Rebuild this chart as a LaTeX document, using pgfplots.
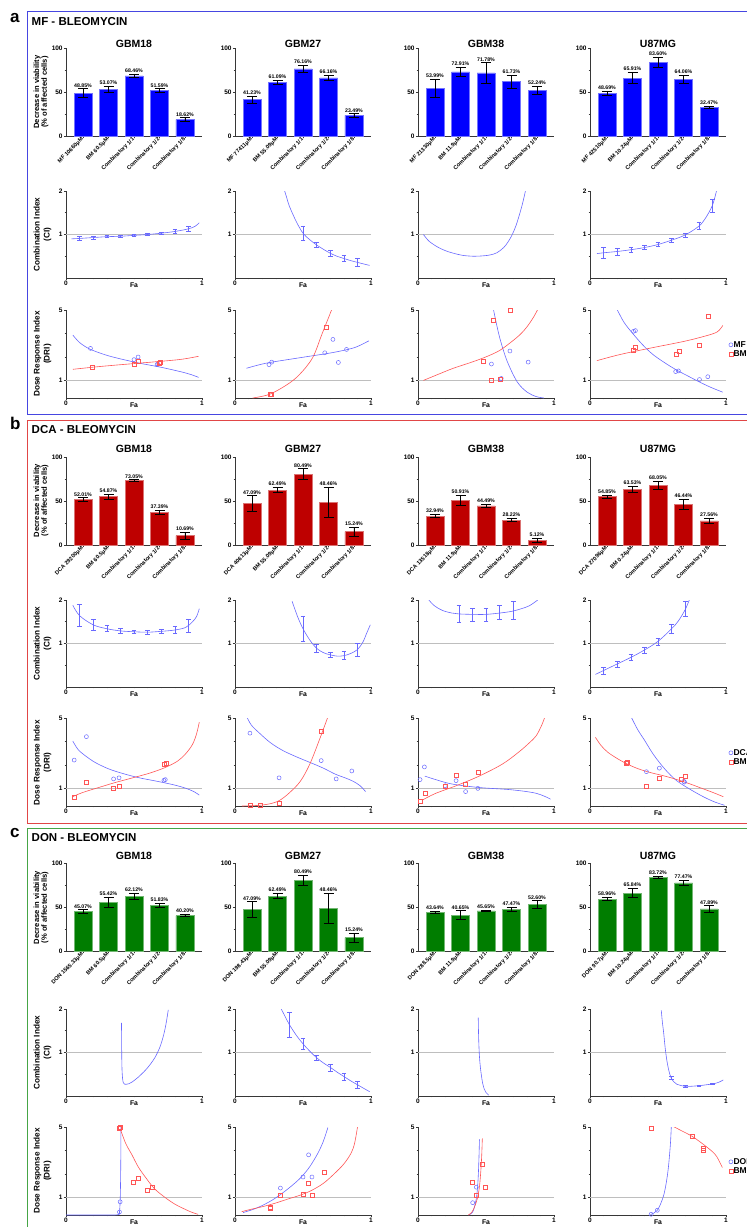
\documentclass[border=0pt]{standalone}
\usepackage{fontspec}
\setmainfont{Liberation Sans}
\usepackage{pgfplots}
\usepackage{pgfplotstable}
\pgfplotsset{compat=1.18}

\definecolor{bbar}{RGB}{0,0,255}
\definecolor{rbar}{RGB}{190,0,0}
\definecolor{gbar}{RGB}{0,125,0}
\definecolor{cblue}{RGB}{105,105,255}
\definecolor{cred}{RGB}{255,85,85}
\definecolor{fblue}{RGB}{70,70,225}
\definecolor{fred}{RGB}{225,70,70}
\definecolor{fgreen}{RGB}{70,165,70}
\definecolor{axgray}{RGB}{55,55,55}
\definecolor{refgray}{RGB}{190,190,190}

\newcommand{\fs}[1]{\fontsize{#1}{#1}\selectfont\bfseries}
\def\tshift{0pt}

\pgfplotsset{
  legend image code/.code={\draw[mark repeat=2,mark phase=2,#1] plot coordinates {(0cm,0cm) (0.1cm,0cm) (0.2cm,0cm)};},
  base/.style={scale only axis, width=136pt, axis lines=left,
    axis line style={-, axgray, line width=1pt},
    tick align=outside, major tick length=2.2pt, minor tick length=1.4pt,
    tick style={axgray, line width=0.6pt},
    /pgf/number format/assume math mode=true,
    tick label style={font=\fs{6.5}, inner sep=1pt},
    xlabel style={font=\fs{6.8}, at={(axis description cs:0.5,0)}, anchor=north, yshift=-4.5pt, inner sep=0pt}},
  barax/.style={base, height=88pt, ymin=0, ymax=100, ytick={0,50,100}, minor ytick={25,75},
    xmin=-0.667, xmax=4.667, xtick={0,...,4},
    x tick label style={rotate=45, anchor=east, font=\fs{5.6}, inner sep=0.5pt},
    title style={font=\fs{10.5}, at={(0.5,1)}, anchor=south, inner sep=0pt, yshift=\tshift}},
  ciax/.style={base, height=87pt, xmin=0, xmax=1, ymin=0, ymax=2, xtick={0,1}, ytick={1,2},
    minor x tick num=9, minor ytick={0.5,1.5}, xlabel={Fa}},
  driax/.style={base, height=88pt, xmin=0, xmax=1, ymin=0, ymax=5, xtick={0,1}, ytick={1,5},
    minor x tick num=9, minor ytick={2.333,3.667}, xlabel={Fa}},
  curve/.style={line width=0.6pt, smooth, tension=0.55, forget plot},
  leg/.style={legend entries={#1,BM}, legend style={at={(1.02,0.55)}, anchor=west,
    draw=none, fill=none, font=\fs{8.5}, inner sep=0pt, row sep=1pt,
    nodes={inner sep=0.6pt}}, legend cell align=left},
}

% bar chart: #1 x, #2 y top, #3 colour, #4 title, #5 tick labels, #6 table (v e)
\newcommand{\bars}[6]{%
\begin{axis}[barax, at={(#1pt,-#2pt)}, anchor=north west, title={#4}, xticklabels={#5}]
\addplot[ybar, bar width=18pt, fill=#3, draw=#3!55!white, line width=0.5pt,
  error bars/.cd, y dir=both, y explicit, error bar style={black, line width=0.8pt},
  error mark options={black, rotate=90, mark size=5pt, line width=0.8pt}]
  table[x expr=\coordindex, y=v, y error=e, row sep=\\] {#6};
\addplot[draw=none, mark=none, point meta=\thisrow{v},
  nodes near coords={\pgfmathprintnumber[fixed, fixed zerofill, precision=2]{\pgfplotspointmeta}\%},
  nodes near coords style={font=\fs{5.2}, anchor=south, inner sep=1.3pt}]
  table[x expr=\coordindex, y expr=\thisrow{v}+\thisrow{e}, row sep=\\] {#6};
\end{axis}}

% error bars for the CI plots
\newcommand{\eb}[1]{\addplot[draw=none, mark=none,
  error bars/.cd, y dir=both, y explicit, error bar style={draw=cblue, line width=0.6pt},
  error mark options={draw=cblue, rotate=90, mark size=2.3pt, line width=0.6pt}] coordinates {#1};}

% CI plot: #1 x, #2 y top, #3 curve, #4 extra code
\newcommand{\ci}[4]{%
\begin{axis}[ciax, at={(#1pt,-#2pt)}, anchor=north west]
\addplot[refgray, line width=0.6pt] coordinates {(0,1) (1,1)};
\addplot[cblue, curve] coordinates {#3};
#4
\end{axis}}

% DRI plot: #1 x, #2 y top, #3 blue curve, #4 blue points, #5 red curve, #6 red points, #7 options
\newcommand{\dri}[7]{%
\begin{axis}[driax, at={(#1pt,-#2pt)}, anchor=north west, #7]
\addplot[refgray, line width=0.6pt, forget plot] coordinates {(0,1) (1,1)};
\addplot[cblue, curve] coordinates {#3};
\addplot[cred, curve] coordinates {#5};
\addplot[cblue, only marks, mark=o, mark size=2pt, line width=0.5pt] coordinates {#4};
\addplot[cred, only marks, mark=square, mark size=2pt, line width=0.5pt] coordinates {#6};
\end{axis}}

\begin{document}
\begin{tikzpicture}
\useasboundingbox (0,0) rectangle (747pt,-1227pt);

% frames
\draw[fblue, line width=1pt] (27pt,-11pt) rectangle (790pt,-414pt);
\draw[fred, line width=1pt] (27pt,-420pt) rectangle (790pt,-823pt);
\draw[fgreen, line width=1pt] (27pt,-828pt) rectangle (790pt,-1260pt);

% panel letters and titles
\node[anchor=base west, inner sep=0pt, font=\fs{17}] at (10pt,-22pt) {a};
\node[anchor=base west, inner sep=0pt, font=\fs{11.5}] at (31.5pt,-25pt) {MF - BLEOMYCIN};
\node[anchor=base west, inner sep=0pt, font=\fs{17}] at (10pt,-429pt) {b};
\node[anchor=base west, inner sep=0pt, font=\fs{11.5}] at (31.5pt,-433pt) {DCA - BLEOMYCIN};
\node[anchor=base west, inner sep=0pt, font=\fs{17}] at (10pt,-837pt) {c};
\node[anchor=base west, inner sep=0pt, font=\fs{11.5}] at (31.5pt,-841pt) {DON - BLEOMYCIN};

% row labels
\foreach \yb/\yc/\yd in {92/234.5/354, 500.5/643.5/762.5, 907.5/1052.5/1171}{
  \node[rotate=90, align=center, font=\fontsize{7.6}{7.6}\selectfont\bfseries] at (41pt,-\yb pt) {Decrease in viability\\(\% of affected cells)};
  \node[rotate=90, align=center, font=\fontsize{8.2}{10}\selectfont\bfseries] at (42.5pt,-\yc pt) {Combination Index\\(CI)};
  \node[rotate=90, align=center, font=\fontsize{8.2}{10}\selectfont\bfseries] at (42.5pt,-\yd pt) {Dose Response Index\\(DRI)};
}

%%%%%%%%%%%%%%%% a : MF - BLEOMYCIN
\def\tshift{-6pt}
\bars{66}{48}{bbar}{GBM18}{MF 10660μM, BM 60.5μM, Combinatory 1/1, Combinatory 1/2, Combinatory 1/8}
  {v e\\ 48.85 4.8\\ 53.07 3.5\\ 68.46 2.0\\ 51.59 2.3\\ 18.62 2.0\\}
\bars{235}{48}{bbar}{GBM27}{MF 77411μM, BM 55.09μM, Combinatory 1/1, Combinatory 1/2, Combinatory 1/8}
  {v e\\ 41.23 4.0\\ 61.09 2.0\\ 76.16 4.0\\ 66.16 3.0\\ 23.49 1.8\\}
\bars{418}{48}{bbar}{GBM38}{MF 21330μM, BM 11.9μM, Combinatory 1/1, Combinatory 1/2, Combinatory 1/8}
  {v e\\ 53.99 10.5\\ 72.91 5.0\\ 71.78 11.5\\ 61.73 7.5\\ 52.24 4.5\\}
\bars{590}{48}{bbar}{U87MG}{MF 42510μM, BM 10.24μM, Combinatory 1/1, Combinatory 1/2, Combinatory 1/8}
  {v e\\ 48.69 2.5\\ 65.91 6.5\\ 83.60 6.0\\ 64.06 4.7\\ 32.47 1.5\\}

\ci{66}{191}{(0.04,0.90) (0.1,0.91) (0.2,0.93) (0.3,0.95) (0.4,0.96) (0.5,0.98) (0.6,1.0) (0.7,1.03) (0.8,1.07) (0.9,1.13) (0.95,1.19) (0.98,1.27)}
  {\eb{(0.1,0.91) +- (0,0.05) (0.2,0.93) +- (0,0.04) (0.3,0.95) +- (0,0.025) (0.4,0.96) +- (0,0.02) (0.5,0.98) +- (0,0.02) (0.6,1.0) +- (0,0.02) (0.7,1.03) +- (0,0.03) (0.8,1.07) +- (0,0.04) (0.9,1.13) +- (0,0.06)}}
\ci{235}{191}{(0.365,2.0) (0.38,1.85) (0.40,1.65) (0.45,1.30) (0.5,1.03) (0.55,0.88) (0.6,0.76) (0.65,0.66) (0.7,0.57) (0.75,0.50) (0.8,0.45) (0.85,0.40) (0.9,0.36) (0.95,0.32) (0.99,0.29)}
  {\eb{(0.5,1.03) +- (0,0.17) (0.6,0.76) +- (0,0.06) (0.7,0.57) +- (0,0.06) (0.8,0.45) +- (0,0.07) (0.9,0.36) +- (0,0.09)}}
\ci{418}{191}{(0.04,1.0) (0.08,0.85) (0.14,0.72) (0.2,0.63) (0.26,0.57) (0.33,0.52) (0.41,0.50) (0.48,0.51) (0.53,0.53) (0.58,0.58) (0.63,0.70) (0.66,0.82) (0.69,0.98) (0.72,1.2) (0.75,1.5) (0.77,1.73) (0.79,2.0)}
  {}
\ci{590}{191}{(0.05,0.56) (0.1,0.58) (0.2,0.61) (0.3,0.65) (0.4,0.70) (0.5,0.77) (0.6,0.87) (0.7,0.99) (0.8,1.19) (0.85,1.38) (0.9,1.67) (0.93,2.0)}
  {\eb{(0.1,0.58) +- (0,0.12) (0.2,0.61) +- (0,0.08) (0.3,0.65) +- (0,0.06) (0.4,0.70) +- (0,0.05) (0.5,0.77) +- (0,0.04) (0.6,0.87) +- (0,0.04) (0.7,0.98) +- (0,0.04) (0.8,1.19) +- (0,0.08) (0.9,1.65) +- (0,0.15)}}

\dri{66}{310}{(0.05,3.58) (0.1,3.15) (0.17,2.8) (0.27,2.5) (0.37,2.28) (0.54,1.98) (0.69,1.76) (0.84,1.50) (0.92,1.33) (0.975,1.17)}
  {(0.18,2.82) (0.50,2.18) (0.53,2.33) (0.67,1.89) (0.675,1.93)}
  {(0.05,1.63) (0.25,1.79) (0.49,1.95) (0.69,2.08) (0.85,2.2) (0.975,2.37)}
  {(0.19,1.75) (0.50,1.89) (0.53,2.08) (0.69,2.04) (0.685,1.98)}{}
\dri{235}{310}{(0.085,1.69) (0.23,1.98) (0.47,2.28) (0.71,2.57) (0.85,2.8) (0.91,2.96) (0.985,3.25)}
  {(0.25,1.89) (0.27,2.04) (0.66,2.57) (0.72,3.33) (0.76,2.02) (0.82,2.76)}
  {(0.13,0) (0.25,0.2) (0.375,0.72) (0.47,1.30) (0.57,2.28) (0.64,3.64) (0.71,5.0)}
  {(0.26,0.19) (0.267,0.23) (0.67,4.03)}{}
\dri{418}{310}{(0.553,5.1) (0.58,4.1) (0.607,3.25) (0.656,2.08) (0.73,0.91) (0.803,0.33) (0.87,0.08) (0.926,0)}
  {(0.54,1.93) (0.607,1.07) (0.612,1.11) (0.676,2.67) (0.81,2.04)}
  {(0.04,1.0) (0.15,1.35) (0.26,1.69) (0.4,2.05) (0.51,2.37) (0.6,2.7) (0.68,3.15) (0.75,3.6) (0.80,4.03) (0.85,4.6) (0.885,5.1)}
  {(0.48,2.08) (0.55,4.40) (0.68,4.96) (0.54,0.99) (0.607,1.05)}{}
\dri{590}{310}{(0.195,5.1) (0.25,4.3) (0.317,3.64) (0.39,3.0) (0.463,2.47) (0.55,2.0) (0.634,1.60) (0.72,1.25) (0.805,0.91) (0.89,0.6) (0.976,0.33)}
  {(0.32,3.79) (0.334,3.83) (0.63,1.50) (0.65,1.54) (0.805,1.05) (0.866,1.21)}
  {(0.05,2.12) (0.22,2.47) (0.46,2.86) (0.71,3.25) (0.90,3.64) (0.95,3.85) (0.976,4.12)}
  {(0.32,2.72) (0.334,2.90) (0.634,2.51) (0.654,2.67) (0.805,3.02) (0.866,4.65)}{leg=MF}

%%%%%%%%%%%%%%%% b : DCA - BLEOMYCIN
\def\tshift{-1.5pt}
\bars{66}{457}{rbar}{GBM18}{DCA 29200μM, BM 60.5μM, Combinatory 1/1, Combinatory 1/2, Combinatory 1/8}
  {v e\\ 52.01 1.9\\ 54.87 2.5\\ 73.05 1.2\\ 37.39 2.5\\ 10.69 4.0\\}
\bars{235}{457}{rbar}{GBM27}{DCA 40613μM, BM 55.09μM, Combinatory 1/1, Combinatory 1/2, Combinatory 1/8}
  {v e\\ 47.09 9.0\\ 62.49 3.0\\ 80.49 6.0\\ 48.46 17.0\\ 15.24 5.0\\}
\bars{418}{457}{rbar}{GBM38}{DCA 13518μM, BM 11.9μM, Combinatory 1/1, Combinatory 1/2, Combinatory 1/8}
  {v e\\ 32.94 1.9\\ 50.91 5.5\\ 44.49 2.0\\ 28.22 1.9\\ 5.12 2.6\\}
\bars{590}{457}{rbar}{U87MG}{DCA 27096μM, BM 0.24μM, Combinatory 1/1, Combinatory 1/2, Combinatory 1/8}
  {v e\\ 54.85 1.9\\ 63.53 3.5\\ 68.05 4.8\\ 46.44 5.7\\ 27.56 3.0\\}

\ci{66}{600}{(0.05,1.88) (0.1,1.64) (0.2,1.43) (0.3,1.34) (0.4,1.29) (0.5,1.27) (0.6,1.26) (0.7,1.28) (0.8,1.31) (0.88,1.37) (0.93,1.5) (0.96,1.62) (0.98,1.80)}
  {\eb{(0.1,1.64) +- (0,0.25) (0.2,1.43) +- (0,0.12) (0.3,1.34) +- (0,0.07) (0.4,1.30) +- (0,0.06) (0.5,1.27) +- (0,0.04) (0.6,1.26) +- (0,0.04) (0.7,1.28) +- (0,0.05) (0.8,1.31) +- (0,0.08) (0.9,1.41) +- (0,0.15)}}
\ci{235}{600}{(0.42,1.97) (0.46,1.62) (0.5,1.34) (0.55,1.08) (0.6,0.89) (0.65,0.79) (0.7,0.74) (0.75,0.71) (0.8,0.72) (0.85,0.77) (0.9,0.86) (0.94,1.03) (0.97,1.25) (0.995,1.43)}
  {\eb{(0.5,1.34) +- (0,0.28) (0.6,0.89) +- (0,0.1) (0.7,0.74) +- (0,0.06) (0.8,0.73) +- (0,0.09) (0.9,0.86) +- (0,0.15)}}
\ci{418}{600}{(0.08,2.0) (0.12,1.87) (0.18,1.76) (0.25,1.70) (0.3,1.68) (0.4,1.67) (0.5,1.67) (0.6,1.70) (0.69,1.74) (0.76,1.8) (0.82,1.87) (0.88,2.0)}
  {\eb{(0.3,1.68) +- (0,0.19) (0.4,1.67) +- (0,0.15) (0.5,1.67) +- (0,0.15) (0.6,1.71) +- (0,0.16) (0.7,1.76) +- (0,0.2)}}
\ci{590}{600}{(0.04,0.29) (0.1,0.38) (0.2,0.53) (0.3,0.68) (0.4,0.85) (0.5,1.05) (0.6,1.34) (0.65,1.52) (0.7,1.78) (0.73,2.0)}
  {\eb{(0.1,0.38) +- (0,0.08) (0.2,0.53) +- (0,0.07) (0.3,0.68) +- (0,0.07) (0.4,0.85) +- (0,0.07) (0.5,1.05) +- (0,0.08) (0.6,1.34) +- (0,0.1) (0.7,1.80) +- (0,0.17)}}

\dri{66}{718}{(0.05,3.69) (0.09,3.2) (0.15,2.81) (0.22,2.45) (0.32,2.09) (0.43,1.82) (0.54,1.60) (0.64,1.45) (0.73,1.31) (0.81,1.17) (0.88,1.01) (0.94,0.82) (0.98,0.62)}
  {(0.06,2.61) (0.15,3.94) (0.35,1.54) (0.39,1.60) (0.72,1.46) (0.73,1.50)}
  {(0.05,0.53) (0.12,0.76) (0.24,1.05) (0.36,1.33) (0.49,1.60) (0.62,1.88) (0.73,2.19) (0.82,2.55) (0.88,2.97) (0.93,3.5) (0.96,4.1) (0.98,4.76)}
  {(0.06,0.49) (0.15,1.37) (0.35,1.01) (0.39,1.11) (0.72,2.38) (0.74,2.42)}{}
\dri{235}{718}{(0.085,5.1) (0.12,4.6) (0.18,4.14) (0.26,3.6) (0.35,3.16) (0.45,2.8) (0.55,2.48) (0.65,2.15) (0.74,1.80) (0.81,1.6) (0.87,1.40) (0.92,1.15) (0.96,0.82)}
  {(0.11,4.14) (0.188,5.05) (0.324,1.60) (0.634,2.58) (0.744,1.54) (0.859,1.99)}
  {(0.05,0) (0.18,0.04) (0.27,0.15) (0.33,0.33) (0.40,0.75) (0.48,1.40) (0.55,2.38) (0.62,3.75) (0.68,5.0)}
  {(0.11,0.02) (0.188,0.05) (0.324,0.14) (0.634,4.23)}{}
\dri{418}{718}{(0.05,1.70) (0.13,1.50) (0.25,1.25) (0.45,1.05) (0.69,0.92) (0.87,0.72) (0.975,0.39)}
  {(0.015,1.50) (0.047,2.22) (0.20,1.15) (0.28,1.44) (0.35,0.82) (0.44,1.0)}
  {(0.03,0.33) (0.13,0.72) (0.28,1.15) (0.45,1.70) (0.62,2.38) (0.74,3.06) (0.82,3.6) (0.87,4.0) (0.91,4.6) (0.93,5.0)}
  {(0.02,0.29) (0.05,0.72) (0.20,1.11) (0.28,1.74) (0.35,1.21) (0.44,1.89)}{}
\dri{590}{718}{(0.30,5.1) (0.35,4.35) (0.40,3.75) (0.46,3.0) (0.52,2.38) (0.58,1.85) (0.644,1.40) (0.742,0.92) (0.84,0.50) (0.92,0.22) (0.99,0.04)}
  {(0.415,1.95) (0.51,2.15) (0.69,1.40) (0.695,1.36)}
  {(0.04,3.90) (0.08,3.45) (0.13,3.06) (0.2,2.7) (0.275,2.38) (0.36,2.1) (0.45,1.89) (0.55,1.7) (0.64,1.50) (0.73,1.27) (0.82,1.01) (0.9,0.78) (0.98,0.53)}
  {(0.27,2.42) (0.275,2.48) (0.415,1.11) (0.51,1.56) (0.67,1.50) (0.70,1.70)}{leg=DCA}

%%%%%%%%%%%%%%%% c : DON - BLEOMYCIN
\def\tshift{-2.5pt}
\bars{66}{863}{gbar}{GBM18}{DON 1565.33μM, BM 60.5μM, Combinatory 1/1, Combinatory 1/2, Combinatory 1/8}
  {v e\\ 45.07 1.9\\ 55.42 6.0\\ 62.12 3.2\\ 51.83 2.8\\ 40.20 1.3\\}
\bars{235}{863}{gbar}{GBM27}{DON 198.43μM, BM 55.09μM, Combinatory 1/1, Combinatory 1/2, Combinatory 1/8}
  {v e\\ 47.09 9.0\\ 62.49 3.0\\ 80.49 6.0\\ 48.46 17.0\\ 15.24 5.0\\}
\bars{418}{863}{gbar}{GBM38}{DON 288.5μM, BM 11.9μM, Combinatory 1/1, Combinatory 1/2, Combinatory 1/8}
  {v e\\ 43.64 1.2\\ 40.65 5.1\\ 45.65 0.5\\ 47.47 2.6\\ 52.60 4.7\\}
\bars{590}{863}{gbar}{U87MG}{DON 90.7μM, BM 10.24μM, Combinatory 1/1, Combinatory 1/2, Combinatory 1/8}
  {v e\\ 58.96 1.9\\ 65.84 5.3\\ 83.72 1.0\\ 77.47 2.8\\ 47.89 3.6\\}

\ci{66}{1009}{(0.408,1.68) (0.409,1.3) (0.41,0.9) (0.412,0.6) (0.416,0.4) (0.422,0.3) (0.432,0.27) (0.46,0.28) (0.485,0.32) (0.53,0.43) (0.583,0.59) (0.62,0.73) (0.655,0.89) (0.69,1.12) (0.716,1.38) (0.735,1.65) (0.752,1.98)}
  {}
\ci{235}{1009}{(0.34,2.0) (0.37,1.82) (0.40,1.64) (0.45,1.40) (0.5,1.20) (0.55,1.03) (0.6,0.88) (0.65,0.76) (0.7,0.66) (0.75,0.55) (0.8,0.45) (0.85,0.35) (0.9,0.26) (0.95,0.17) (0.99,0.10)}
  {\eb{(0.4,1.64) +- (0,0.29) (0.5,1.20) +- (0,0.12) (0.6,0.87) +- (0,0.06) (0.7,0.65) +- (0,0.08) (0.8,0.45) +- (0,0.08) (0.9,0.26) +- (0,0.08)}}
\ci{418}{1009}{(0.443,1.8) (0.445,1.45) (0.448,1.15) (0.452,0.9) (0.458,0.68) (0.465,0.5) (0.475,0.3) (0.487,0.16) (0.50,0.08) (0.52,0.02)}
  {}
\ci{590}{1009}{(0.524,1.97) (0.532,1.7) (0.541,1.47) (0.553,1.1) (0.566,0.80) (0.58,0.58) (0.595,0.43) (0.615,0.33) (0.639,0.27) (0.67,0.24) (0.70,0.22) (0.75,0.225) (0.81,0.24) (0.86,0.26) (0.907,0.28) (0.95,0.32) (0.98,0.37)}
  {\eb{(0.6,0.42) +- (0,0.04) (0.7,0.22) +- (0,0.015) (0.8,0.24) +- (0,0.015) (0.9,0.28) +- (0,0.015)}}

\dri{66}{1127}{(0,0) (0.3,0) (0.385,0.02) (0.393,0.17) (0.398,0.75) (0.401,1.8) (0.403,3.2) (0.404,5.0)}
  {(0.398,0.75) (0.393,0.17)}
  {(0.40,4.87) (0.44,4.05) (0.485,3.42) (0.53,2.75) (0.583,2.16) (0.65,1.5) (0.728,1.0) (0.8,0.62) (0.874,0.33) (0.93,0.14) (0.971,0.04)}
  {(0.388,4.91) (0.400,5.0) (0.493,1.84) (0.529,2.07) (0.595,1.39) (0.631,1.55)}{}
\dri{235}{1127}{(0.06,0.14) (0.13,0.31) (0.195,0.52) (0.27,0.83) (0.341,1.2) (0.42,1.68) (0.488,2.16) (0.55,2.75) (0.61,3.52) (0.65,4.2) (0.683,4.97)}
  {(0.334,1.53) (0.5,2.16) (0.541,3.42) (0.566,2.16)}
  {(0.049,0.19) (0.12,0.33) (0.195,0.46) (0.29,0.66) (0.39,0.91) (0.48,1.13) (0.561,1.39) (0.65,1.8) (0.732,2.36) (0.8,2.9) (0.854,3.52) (0.88,4.1) (0.902,5.06)}
  {(0.256,0.46) (0.256,0.41) (0.334,1.1) (0.5,1.2) (0.541,1.78) (0.566,1.1) (0.654,2.42)}{}
\dri{418}{1127}{(0.375,0) (0.40,0.15) (0.415,0.45) (0.428,0.9) (0.436,1.4) (0.443,2.2) (0.448,3.2) (0.452,4.3)}
  {(0.402,0.70) (0.429,1.58)}
  {(0.37,0) (0.395,0.15) (0.415,0.45) (0.435,0.9) (0.45,1.5) (0.46,2.3) (0.468,3.3) (0.473,4.35)}
  {(0.40,1.84) (0.429,1.10) (0.475,2.86) (0.493,1.55)}{}
\dri{590}{1127}{(0.445,0) (0.449,0.04) (0.495,0.27) (0.541,1.1) (0.571,2.36) (0.59,3.9) (0.598,5.06)}
  {(0.449,0.04) (0.495,0.27)}
  {(0.595,5.1) (0.67,4.8) (0.749,4.48) (0.81,4.15) (0.859,3.86) (0.90,3.6) (0.932,3.32) (0.973,2.7)}
  {(0.451,4.91) (0.749,4.48) (0.829,3.67) (0.834,3.77)}{leg=DON}

\end{tikzpicture}
\end{document}
